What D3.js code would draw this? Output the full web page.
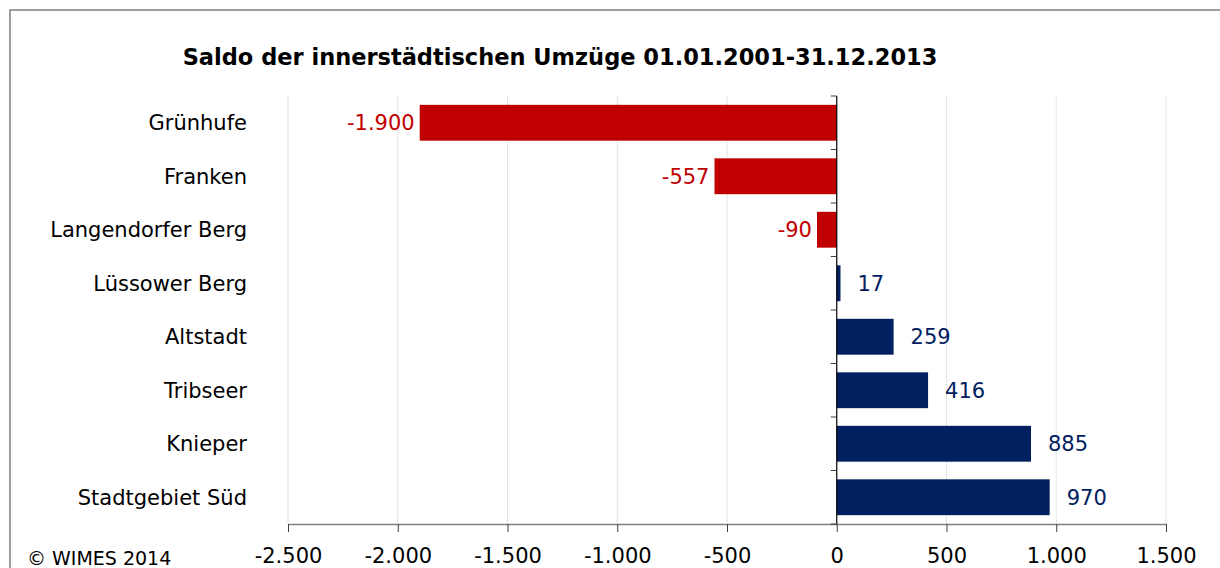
<!DOCTYPE html>
<html>
<head>
<meta charset="utf-8">
<script src="https://cdn.jsdelivr.net/npm/d3@7"></script>
<style>
    html, body { margin: 0; padding: 0; background: #fff; }
    svg { display: block; font-family: "DejaVu Sans", Verdana, sans-serif; }
</style>
</head>
<body>
<svg id="svg" width="1220" height="568"></svg>
<script>
// --- Data ---
const districts = ['Grünhufe', 'Franken', 'Langendorfer Berg', 'Lüssower Berg',
                   'Altstadt', 'Tribseer', 'Knieper', 'Stadtgebiet Süd'];
const saldo     = [-1900, -557, -90, 17, 259, 416, 885, 970];
const xTicks    = [-2500, -2000, -1500, -1000, -500, 0, 500, 1000, 1500];

const TITLE  = 'Saldo der innerstädtischen Umzüge 01.01.2001-31.12.2013';
const CREDIT = '© WIMES 2014';
const NEG    = '#C00000';
const POS    = '#002060';

const rows = districts.map((name, i) => ({ name, value: saldo[i] }));

const svg = d3.select('#svg');
const W = 1220, H = 568;

// German number format: dot as thousands separator, plain hyphen as minus
const de  = d3.formatLocale({ decimal: ',', thousands: '.', grouping: [3], currency: ['', '€'], minus: '-' });
const fmt = de.format(',d');

// outer frame (runs off right/bottom edge)
svg.append('rect')
    .attr('x', 10).attr('y', 10)
    .attr('width', W).attr('height', H)
    .attr('fill', 'none')
    .attr('stroke', '#7f7f7f')
    .attr('stroke-width', 1.5);

// --- Scales ---
const x = d3.scaleLinear().domain([-2500, 1500]).range([288, 1166]);
const y = d3.scaleBand().domain(districts).range([96, 524]).paddingInner(0.33).paddingOuter(0.165);

// --- Gridlines ---
svg.append('g')
    .selectAll('line')
    .data(xTicks.filter(t => t !== 0))
    .join('line')
    .attr('x1', d => x(d)).attr('x2', d => x(d))
    .attr('y1', 96).attr('y2', 524)
    .attr('stroke', '#c8c8c8')
    .attr('stroke-width', 1)
    .attr('stroke-dasharray', '1,1');

// --- Bars ---
svg.append('g')
    .selectAll('rect')
    .data(rows)
    .join('rect')
    .attr('x', d => x(Math.min(0, d.value)))
    .attr('y', d => y(d.name))
    .attr('width', d => Math.abs(x(d.value) - x(0)))
    .attr('height', y.bandwidth())
    .attr('fill', d => d.value < 0 ? NEG : POS);

// --- Value labels ---
svg.append('g')
    .selectAll('text')
    .data(rows)
    .join('text')
    .attr('x', d => d.value < 0 ? x(d.value) - 5 : x(d.value) + 17)
    .attr('y', d => y(d.name) + y.bandwidth() / 2)
    .attr('dy', '0.36em')
    .attr('text-anchor', d => d.value < 0 ? 'end' : 'start')
    .attr('font-size', 21)
    .attr('fill', d => d.value < 0 ? NEG : POS)
    .text(d => fmt(d.value));

// --- X axis ---
const xAxis = svg.append('g')
    .attr('transform', 'translate(0,524)')
    .call(d3.axisBottom(x).tickValues(xTicks).tickFormat(fmt).tickSize(8).tickSizeOuter(0));
xAxis.select('.domain').attr('stroke', '#808080').attr('stroke-width', 1.5);
xAxis.selectAll('.tick line').attr('stroke', '#404040');
xAxis.selectAll('.tick text')
    .attr('font-family', '"DejaVu Sans", Verdana, sans-serif')
    .attr('font-size', 21)
    .attr('fill', '#000')
    .attr('y', 24);

// --- Y axis at zero (ticks between categories) ---
svg.append('line')
    .attr('x1', x(0)).attr('x2', x(0))
    .attr('y1', 96).attr('y2', 524)
    .attr('stroke', '#000')
    .attr('stroke-width', 1.2);

const step = y.step();
svg.append('g')
    .selectAll('line')
    .data(d3.range(districts.length + 1))
    .join('line')
    .attr('x1', x(0) - 6).attr('x2', x(0))
    .attr('y1', i => 96 + i * step).attr('y2', i => 96 + i * step)
    .attr('stroke', '#404040');

// --- Category labels ---
svg.append('g')
    .selectAll('text')
    .data(districts)
    .join('text')
    .attr('x', 247)
    .attr('y', d => y(d) + y.bandwidth() / 2)
    .attr('dy', '0.36em')
    .attr('text-anchor', 'end')
    .attr('font-size', 21)
    .attr('fill', '#000')
    .text(d => d);

// --- Title & credit ---
svg.append('text')
    .attr('x', 560).attr('y', 65)
    .attr('text-anchor', 'middle')
    .attr('font-size', 22.5)
    .attr('font-weight', 'bold')
    .attr('fill', '#000')
    .text(TITLE);

svg.append('text')
    .attr('x', 27).attr('y', 565)
    .attr('font-size', 19)
    .attr('fill', '#000')
    .text(CREDIT);
</script>
</body>
</html>
